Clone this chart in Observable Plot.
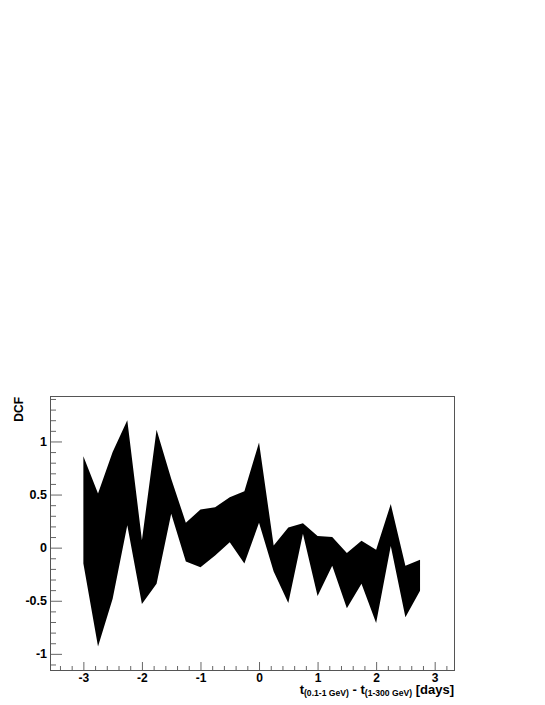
<!DOCTYPE html>
<html>
<head>
<meta charset="utf-8">
<script src="https://cdn.jsdelivr.net/npm/d3@7"></script>
<script src="https://cdn.jsdelivr.net/npm/@observablehq/plot@0.6"></script>
<style>
  html, body { margin: 0; padding: 0; background: #fff; }
  #chart { width: 545px; height: 705px; }
</style>
</head>
<body>
<div id="chart"></div>
<script>
// Time lag (days)
const lag = [-3, -2.75, -2.5, -2.25, -2, -1.75, -1.5, -1.25, -1, -0.75, -0.5, -0.25,
             0, 0.25, 0.5, 0.75, 1, 1.25, 1.5, 1.75, 2, 2.25, 2.5, 2.75];
// Upper edge of DCF band
const dcfUpper = [0.86, 0.51, 0.90, 1.20, 0.07, 1.11, 0.65, 0.235, 0.36, 0.38, 0.475, 0.53,
                  0.99, 0.02, 0.19, 0.23, 0.11, 0.10, -0.05, 0.066, -0.02, 0.41, -0.17, -0.115];
// Lower edge of DCF band
const dcfLower = [-0.15, -0.93, -0.48, 0.21, -0.53, -0.34, 0.32, -0.13, -0.185, -0.075, 0.05, -0.15,
                  0.235, -0.225, -0.52, 0.13, -0.455, -0.17, -0.57, -0.34, -0.71, 0.015, -0.655, -0.405];

const xTickLabels = [-3, -2, -1, 0, 1, 2, 3];
const yTickLabels = [-1, -0.5, 0, 0.5, 1];
const xMinor = d3.range(-34, 33, 2).map(d => d / 10).filter(d => !xTickLabels.includes(d));
const yMinor = d3.range(-11, 15, 1).map(d => d / 10).filter(d => !yTickLabels.includes(d));

const data = lag.map((t, i) => ({t, hi: dcfUpper[i], lo: dcfLower[i]}));

const W = 545, H = 705;
const mL = 50, mR = 91, mT = 396, mB = 35;
const innerW = W - mL - mR, innerH = H - mT - mB;
const tickCol = "#666";

const svg = Plot.plot({
  width: W, height: H,
  marginLeft: mL, marginRight: mR, marginTop: mT, marginBottom: mB,
  style: {fontFamily: "'Liberation Sans', Arial, Helvetica, sans-serif", fontWeight: "bold", fontSize: "12.5px", color: "#000", background: "#fff"},
  x: {domain: [-3.57, 3.33], label: null},
  y: {domain: [-1.152, 1.428], label: null},
  marks: [
    Plot.areaY(data, {x: "t", y1: "lo", y2: "hi", fill: "black"}),
    Plot.ruleX(xMinor, {x: d => d, stroke: tickCol, insetTop: innerH - 4}),
    Plot.ruleX(xTickLabels, {x: d => d, stroke: tickCol, insetTop: innerH - 8}),
    Plot.ruleY(yMinor, {y: d => d, stroke: tickCol, insetRight: innerW - 6}),
    Plot.ruleY(yTickLabels, {y: d => d, stroke: tickCol, insetRight: innerW - 12}),
    Plot.frame({stroke: "#555"}),
    Plot.axisX({ticks: xTickLabels, tickSize: 0, tickPadding: 2.5, tickFormat: d => String(d), label: null, fontSize: 12, fontWeight: "bold"}),
    Plot.axisY({ticks: yTickLabels, tickSize: 0, tickPadding: 3.5, tickFormat: d => String(d), label: null, fontSize: 12.5, fontWeight: "bold"})
  ]
});

const s = d3.select(svg);
// Y title
s.append("text")
  .attr("transform", `translate(23,${mT + 1}) rotate(-90)`)
  .attr("text-anchor", "end")
  .attr("font-size", 12)
  .attr("font-weight", "bold")
  .attr("fill", "#000")
  .text("DCF");
// X title
const xt = s.append("text")
  .attr("x", W - mR)
  .attr("y", 693.5)
  .attr("text-anchor", "end")
  .attr("font-size", 13)
  .attr("font-weight", "bold")
  .attr("fill", "#000");
xt.append("tspan").text("t");
xt.append("tspan").attr("font-size", 8.6).attr("dy", 2.5).text("(0.1-1 GeV)");
xt.append("tspan").attr("dy", -2.5).text(" - t");
xt.append("tspan").attr("font-size", 8.6).attr("dy", 2.5).text("(1-300 GeV)");
xt.append("tspan").attr("dy", -2.5).text(" [days]");

document.getElementById("chart").appendChild(svg);
</script>
</body>
</html>
